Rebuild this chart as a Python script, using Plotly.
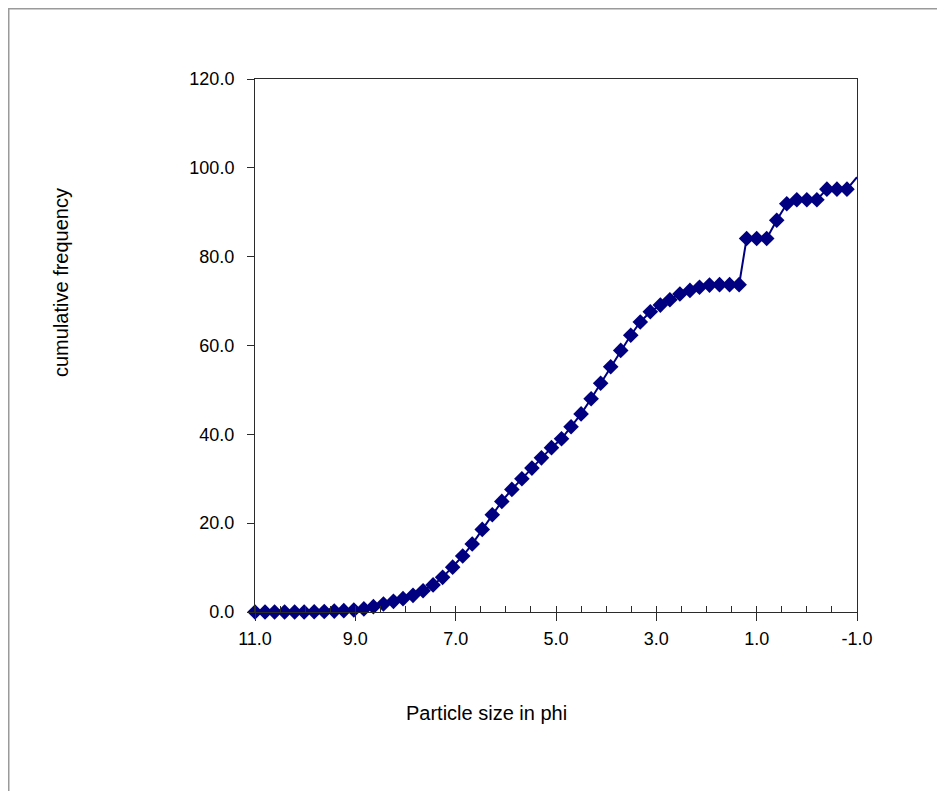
import plotly.graph_objects as go

# particle size (phi) - laser part then sieve part
phi_laser = [11.00, 10.80, 10.61, 10.41, 10.21, 10.02, 9.82, 9.62, 9.42, 9.23,
             9.03, 8.83, 8.64, 8.44, 8.24, 8.05, 7.85, 7.65, 7.45, 7.26,
             7.06, 6.86, 6.67, 6.47, 6.27, 6.08, 5.88, 5.68, 5.48, 5.29,
             5.09, 4.89, 4.70, 4.50, 4.30, 4.11, 3.91, 3.71, 3.51, 3.32,
             3.12, 2.92, 2.73, 2.53, 2.33, 2.14, 1.94, 1.74, 1.54, 1.35]
cum_laser = [0.0, 0.0, 0.0, 0.0, 0.0, 0.0, 0.05, 0.1, 0.2, 0.3,
             0.45, 0.7, 1.2, 1.8, 2.4, 3.0, 3.75, 4.8, 6.1, 7.8,
             10.1, 12.6, 15.3, 18.6, 21.9, 24.9, 27.6, 30.0, 32.4, 34.7,
             37.0, 39.0, 41.7, 44.6, 48.0, 51.5, 55.2, 58.9, 62.3, 65.3,
             67.6, 69.1, 70.3, 71.6, 72.4, 73.1, 73.6, 73.7, 73.7, 73.7]

phi_sieve = [1.2, 1.0, 0.8, 0.6, 0.4, 0.2, 0.0, -0.2, -0.4, -0.6, -0.8, -1.0]
cum_sieve = [84.1, 84.1, 84.1, 88.2, 91.9, 92.8, 92.8, 92.8, 95.2, 95.2, 95.2, 97.9]

x_ticks = [11, 9, 7, 5, 3, 1, -1]
x_labels = ["11.0", "9.0", "7.0", "5.0", "3.0", "1.0", "-1.0"]
y_ticks = [0, 20, 40, 60, 80, 100, 120]

phi = phi_laser + phi_sieve
cum = cum_laser + cum_sieve

# the page body has an 8px margin, so the figure starts at (8, 8)
FW, FH = 937, 783
# plot area in figure pixels
L, R, T, B = 247, 849, 71, 604
W, H = R - L, B - T

navy = "#000080"
axis_col = "#2b2b2b"
font_family = "Liberation Sans, Arial"

fig = go.Figure()
fig.add_trace(go.Scatter(
    x=phi, y=cum, mode="lines+markers",
    line=dict(color=navy, width=2),
    marker=dict(symbol="diamond", color=navy, opacity=1,
                line=dict(width=0),
                size=[12] * (len(phi) - 1) + [0]),
    cliponaxis=False,
    showlegend=False,
))

fig.update_xaxes(
    range=[11, -1], tickvals=x_ticks, ticktext=x_labels,
    ticks="outside", ticklen=8, tickcolor=axis_col, ticklabelstandoff=2,
    minor=dict(dtick=0.5, ticks="inside", ticklen=6, tickcolor=axis_col),
    showline=True, linecolor=axis_col, linewidth=1, mirror=True,
    showgrid=False, zeroline=False,
    tickfont=dict(family=font_family, size=18, color="black"),
)
fig.update_yaxes(
    range=[0, 120], tickvals=y_ticks, tickformat=".1f",
    ticks="outside", ticklen=7, tickcolor=axis_col, ticklabelstandoff=9,
    showline=True, linecolor=axis_col, linewidth=1, mirror=True,
    showgrid=False, zeroline=False,
    tickfont=dict(family=font_family, size=18, color="black"),
)

# axis titles (placed like the original, not centred on the plot)
fig.add_annotation(
    text="Particle size in phi", xref="paper", yref="paper",
    x=(478 - L) / W, y=(B - 705) / H, xanchor="center", yanchor="middle",
    showarrow=False,
    font=dict(family=font_family, size=20, color="black"),
)
fig.add_annotation(
    text="cumulative frequency", xref="paper", yref="paper",
    x=(53 - L) / W, y=(B - 275) / H, xanchor="center", yanchor="middle",
    showarrow=False, textangle=-90,
    font=dict(family=font_family, size=20, color="black"),
)

# outer chart border
fig.add_shape(
    type="rect", xref="paper", yref="paper",
    x0=(0.75 - L) / W, x1=(935 - L) / W, y0=(B - 790) / H, y1=(B - 0.75) / H,
    line=dict(color="#9a9a9a", width=1.5),
)

fig.update_layout(
    width=FW, height=FH,
    margin=dict(l=L, r=FW - R, t=T, b=FH - B),
    plot_bgcolor="white", paper_bgcolor="white",
    font=dict(family=font_family, size=18, color="black"),
)

fig.write_html("out.html")
